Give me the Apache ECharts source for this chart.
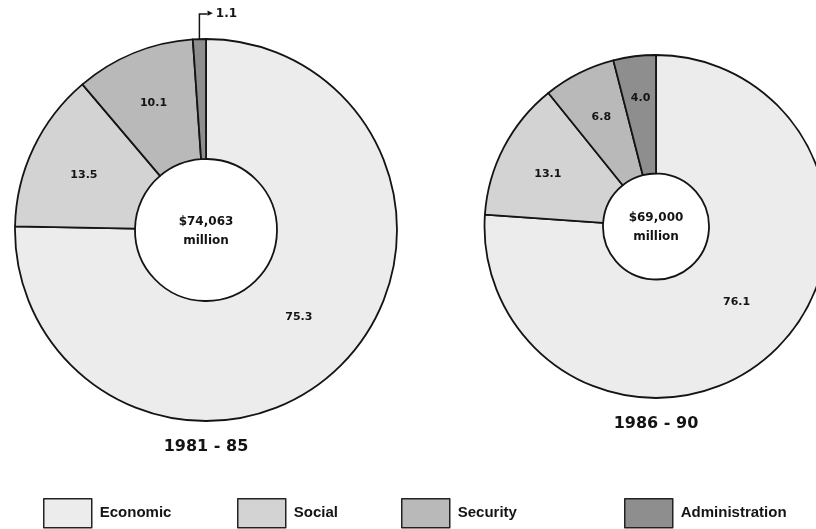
<!DOCTYPE html>
<html>
<head>
<meta charset="utf-8">
<script src="https://cdn.jsdelivr.net/npm/echarts@6/dist/echarts.min.js"></script>
<style>
  html, body { margin: 0; padding: 0; background: #ffffff; }
  #chart { width: 816px; height: 529px; }
</style>
</head>
<body>
<div id="chart"></div>
<script>
// Sector shares (% of total allocation) for each plan period
const categories = ['Economic', 'Social', 'Security', 'Administration'];
const periods = ['1981 - 85', '1986 - 90'];
const totals = ['$74,063', '$69,000'];
const shares1981 = [75.3, 13.5, 10.1, 1.1];
const shares1986 = [76.1, 13.1, 6.8, 4.0];

// Layout and styling
const fills = ['#ececec', '#d3d3d3', '#b9b9b9', '#8e8e8e'];
const pieCenters = [[206, 230], [656, 226.5]];
const pieRadii = [[71, 191], [53, 171.5]];
const labelNudge = [
  [[-1, -9], [-1, 3], [-2, -3], [0, 0]],
  [[2, -9], [-6, 1], [-3, -6], [-1, -14]]
];
const leader = { rise: 25, run: 8 };
const legendLeft = [43, 237, 401, 624];
const ink = '#141414';
const numFont = 'DejaVu Sans';
const textFont = 'Liberation Sans';

function pieSeries(shares, idx, leaderIndex) {
  return {
    type: 'pie',
    center: pieCenters[idx],
    radius: pieRadii[idx],
    startAngle: 90,
    clockwise: true,
    avoidLabelOverlap: false,
    silent: true,
    animation: false,
    itemStyle: { borderColor: ink, borderWidth: 1.8 },
    label: {
      position: 'inside',
      color: ink,
      fontFamily: numFont,
      fontWeight: 'bold',
      fontSize: 11,
      formatter: p => p.value.toFixed(1)
    },
    labelLine: { show: false },
    labelLayout: function (p) {
      if (p.dataIndex === leaderIndex && p.labelLinePoints) {
        const start = p.labelLinePoints[0];
        const elbow = [start[0], start[1] - leader.rise];
        const tip = [start[0] + leader.run, elbow[1]];
        return {
          x: tip[0], y: tip[1], align: 'left', verticalAlign: 'middle',
          labelLinePoints: [start, elbow, tip]
        };
      }
      const n = labelNudge[idx][p.dataIndex];
      return { dx: n[0], dy: n[1] };
    },
    data: shares.map((v, i) => {
      const item = { name: categories[i], value: v, itemStyle: { color: fills[i] } };
      if (i === leaderIndex) {
        item.label = {
          position: 'outside',
          fontSize: 12,
          formatter: p => '{a|\u25B6}' + p.value.toFixed(1),
          rich: { a: { fontSize: 7, color: ink, padding: [0, 3, 1, 0] } }
        };
        item.labelLine = { show: true, length: 20, length2: 8, lineStyle: { color: ink, width: 1.5 } };
      }
      return item;
    })
  };
}

const chart = echarts.init(document.getElementById('chart'), null, { renderer: 'canvas' });

const graphics = [];
pieCenters.forEach((c, i) => {
  graphics.push({
    type: 'text', x: c[0], y: c[1] + 1, silent: true,
    style: {
      text: totals[i] + '\nmillion', align: 'center', verticalAlign: 'middle',
      font: 'bold 12px "' + numFont + '"', lineHeight: 19, fill: ink
    }
  });
  graphics.push({
    type: 'text', x: c[0], y: c[1] + pieRadii[i][1] + 26, silent: true,
    style: {
      text: periods[i], align: 'center', verticalAlign: 'middle',
      font: 'bold 16px "' + numFont + '"', fill: ink
    }
  });
});

chart.setOption({
  backgroundColor: '#ffffff',
  animation: false,
  legend: categories.map((name, i) => ({
    data: [name],
    left: legendLeft[i],
    top: 498,
    padding: 0,
    icon: 'rect',
    itemWidth: 48,
    itemHeight: 29,
    selectedMode: false,
    itemStyle: { borderColor: '#222', borderWidth: 1.5 },
    textStyle: { fontFamily: textFont, fontWeight: 'bold', fontSize: 15, color: ink, padding: [0, 0, 0, 3] }
  })),
  graphic: graphics,
  series: [
    pieSeries(shares1981, 0, 3),
    pieSeries(shares1986, 1, -1)
  ]
});
</script>
</body>
</html>
